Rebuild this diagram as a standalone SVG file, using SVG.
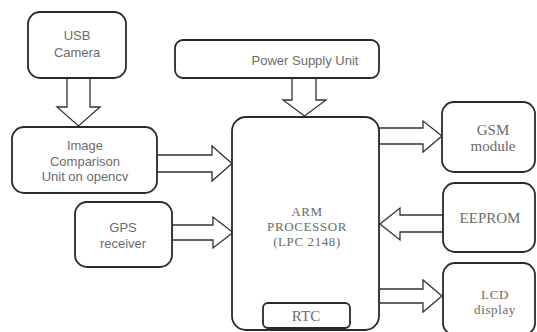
<svg xmlns="http://www.w3.org/2000/svg" width="537" height="332" viewBox="0 0 537 332">
<style>
.box{fill:#fff;stroke:#2a2a2a;stroke-width:1.8}
.arr{fill:#fff;stroke:#333;stroke-width:1.3;stroke-linejoin:miter}
.s{font-family:"Liberation Sans","DejaVu Sans",sans-serif;font-size:13px;fill:#6b6b6b;text-anchor:middle}
.t{font-family:"Liberation Serif","DejaVu Serif",serif;font-size:15px;fill:#6b6b6b;text-anchor:middle}
.m{font-family:"Liberation Serif","DejaVu Serif",serif;font-size:13px;fill:#6b6b6b;text-anchor:middle;letter-spacing:0.6px}
</style>
<rect width="537" height="332" fill="#fff"/>
<g id="connectors">
<polygon class="arr" points="67,78 90,78 90,107 100,107 78.5,126 57,107 67,107"/>
<polygon class="arr" points="157,155 212,155 212,146 232,163.5 212,181 212,172 157,172"/>
<polygon class="arr" points="172,225 213,225 213,217 233,232.5 213,248 213,240 172,240"/>
<polygon class="arr" points="292,78 316,78 316,100 326,100 304.5,116 283,100 292,100"/>
<polygon class="arr" points="379,128 423,128 423,121 442,136 423,152 423,144 379,144"/>
<polygon class="arr" points="443,215 400,215 400,208 380,224 400,240 400,232 443,232"/>
<polygon class="arr" points="379,289 423,289 423,280 442,296 423,312 423,303 379,303"/>
</g>
<g id="usb">
<rect class="box" x="28" y="12" width="98" height="66" rx="12"/>
<text class="s" x="77" y="40">USB</text>
<text class="s" x="77" y="57">Camera</text>
</g>
<g id="imgcmp">
<rect class="box" x="12" y="127" width="145" height="66" rx="12"/>
<text class="s" x="85" y="150">Image</text>
<text class="s" x="85" y="166">Comparison</text>
<text class="s" x="85" y="181">Unit on opencv</text>
</g>
<g id="gps">
<rect class="box" x="75" y="202" width="97" height="65" rx="12"/>
<text class="s" x="123" y="232">GPS</text>
<text class="s" x="123" y="248">receiver</text>
</g>
<g id="power">
<rect class="box" x="175" y="40" width="204" height="38" rx="8"/>
<text class="s" x="305" y="65">Power Supply Unit</text>
</g>
<g id="arm">
<rect class="box" x="232" y="117" width="147" height="213" rx="14"/>
<text class="m" x="307" y="216">ARM</text>
<text class="m" x="307" y="231">PROCESSOR</text>
<text class="m" x="307" y="246">(LPC 2148)</text>
</g>
<g id="rtc">
<rect class="box" x="263" y="303" width="87" height="25" rx="5"/>
<text class="t" x="306" y="321">RTC</text>
</g>
<g id="gsm">
<rect class="box" x="442" y="102" width="93" height="70" rx="12"/>
<text class="t" x="493" y="135">GSM</text>
<text class="t" x="493" y="151">module</text>
</g>
<g id="eeprom">
<rect class="box" x="443" y="183" width="92" height="69" rx="12"/>
<text class="t" x="490" y="223">EEPROM</text>
</g>
<g id="lcd">
<rect class="box" x="443" y="263" width="92" height="72" rx="12"/>
<text class="m" x="495" y="299">LCD</text>
<text class="m" x="495" y="314">display</text>
</g>
</svg>
